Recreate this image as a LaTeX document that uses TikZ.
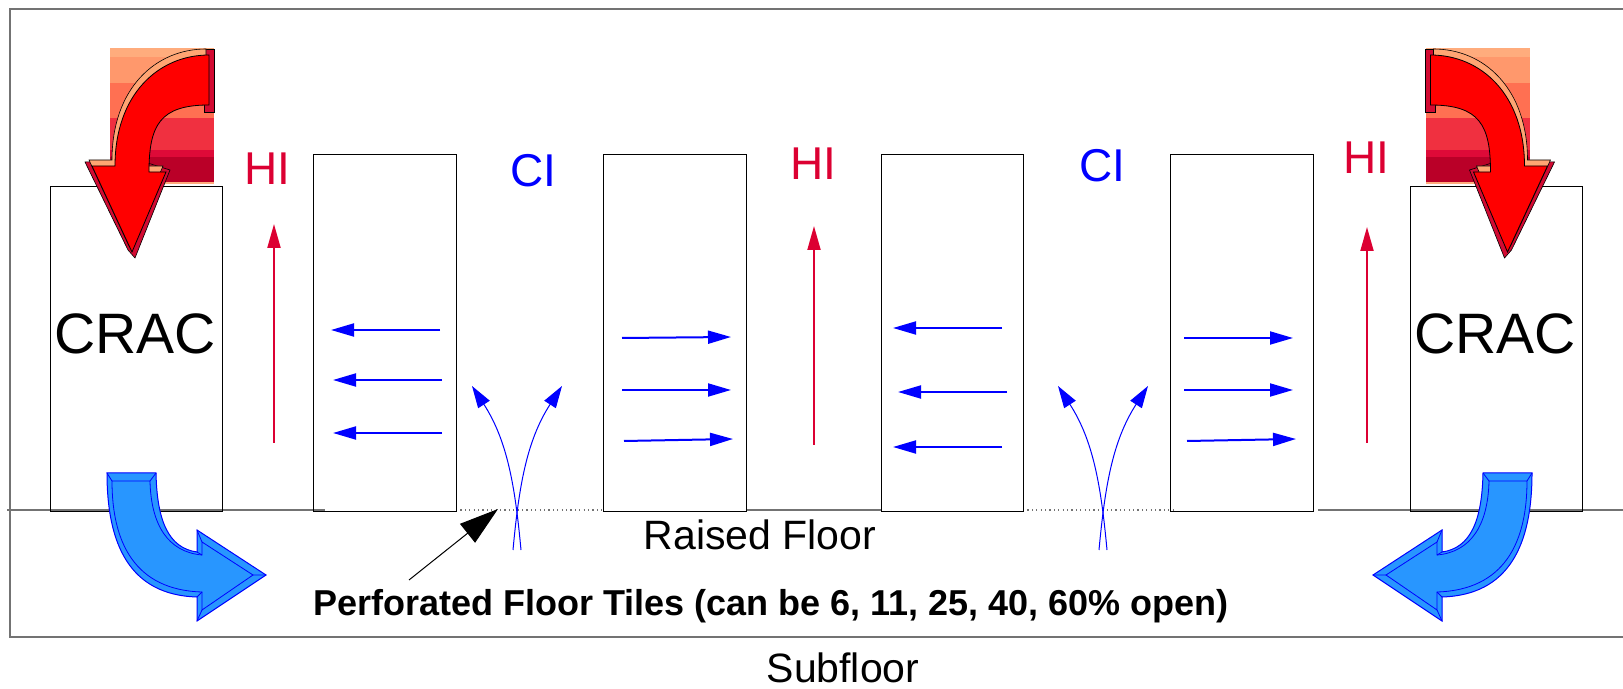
\documentclass[tikz,border=0pt]{standalone}
\usepackage{fontspec}
\setmainfont{Liberation Sans}
\usetikzlibrary{arrows.meta}
\definecolor{hotred}{RGB}{220,0,50}
\definecolor{airblue}{RGB}{0,0,255}
\definecolor{coolfill}{RGB}{40,150,255}
\definecolor{linegray}{RGB}{115,115,115}
\definecolor{stripeA}{RGB}{255,172,125}
\definecolor{stripeB}{RGB}{255,152,108}
\definecolor{stripeC}{RGB}{255,112,82}
\definecolor{stripeD}{RGB}{240,48,64}
\definecolor{stripeE}{RGB}{222,10,56}
\definecolor{stripeF}{RGB}{186,0,40}
\definecolor{bevellight}{RGB}{255,165,115}
\definecolor{beveldark}{RGB}{210,10,50}
\definecolor{facered}{RGB}{255,0,0}
\newcommand\hotface[2]{\draw[#1,shift={#2}] (209,55) .. controls (158,55) and (115,95) .. (115,166) -- (92,166) -- (132,252) -- (166,172) -- (149,172) .. controls (149,125) and (160,105) .. (209,105) -- cycle;}
\tikzset{
  rackbox/.style={draw=black, line width=0.5pt, inner sep=0pt, minimum width=71.5pt, minimum height=178.5pt},
  cracbox/.style={draw=black, line width=0.5pt, inner sep=0pt, minimum width=86pt, minimum height=162.5pt},
  bigtext/.style={inner sep=0pt, anchor=base, font=\fontsize{28.5}{32}\selectfont},
  hitext/.style={inner sep=0pt, anchor=base, text=hotred, font=\fontsize{23}{27}\selectfont},
  citext/.style={inner sep=0pt, anchor=base, text=airblue, font=\fontsize{23}{27}\selectfont},
  floortext/.style={inner sep=0pt, anchor=base, font=\fontsize{20.5}{24}\selectfont},
  flowarrow/.style={airblue, line width=1pt, -{Triangle[length=11.5pt,width=6.5pt]}},
  hotflow/.style={hotred, line width=1pt, -{Triangle[length=12pt,width=6.5pt]}},
  riseflow/.style={airblue, line width=0.5pt, -{Triangle[length=11pt,width=6.8pt]}},
  floorline/.style={linegray, line width=1pt},
  floordot/.style={linegray, line width=0.7pt, dash pattern=on 0.6pt off 1.6pt},
  hotarrow/.pic={
    \fill[stripeA] (110,48) rectangle (214,57);
    \fill[stripeB] (110,57) rectangle (214,83);
    \fill[stripeC] (110,83) rectangle (214,118);
    \fill[stripeD] (110,118) rectangle (214,150);
    \fill[stripeE] (110,150) rectangle (214,157);
    \fill[stripeF] (110,157) rectangle (214,182);
    \fill[stripeA] (110,182) rectangle (214,184);
    \draw[fill=beveldark, draw=black, line width=0.3pt] (204,49) -- (214,49) -- (214,112) -- (204,112) -- cycle;
    \draw[fill=beveldark, draw=black, line width=0.3pt] (85,162) -- (138,160) -- (170,170) -- (135,258) -- (128,250) -- cycle;
    \hotface{fill=bevellight,draw=black,line width=0.3pt}{(-3,-6)}
    \hotface{fill=facered,draw=black,line width=0.4pt}{(0,0)}
  },
  coolarrow/.pic={
    \draw[airblue, fill=coolfill, line width=0.5pt] (107,473) -- (156,473) .. controls (157,520) and (168,548) .. (197,552) -- (197,530) -- (266,575) -- (197,621) -- (197,597) .. controls (130,595) and (107,545) .. (107,473) -- cycle;
    \draw[airblue, line width=0.4pt] (112,481) -- (150,481) .. controls (151,525) and (168,552) .. (202,555) -- (202,542) -- (253,575) -- (202,610) -- (202,592) .. controls (135,590) and (112,543) .. (112,481) -- cycle;
    \draw[airblue, line width=0.4pt] (107,473) -- (112,481) (156,473) -- (150,481) (197,552) -- (202,555) (197,530) -- (202,542) (266,575) -- (253,575) (197,621) -- (202,610) (197,597) -- (202,592);
  }
}
\begin{document}
\begin{tikzpicture}[x=0.5pt,y=-0.5pt]
\useasboundingbox (0,0) rectangle (1623,689);
% frame
\draw[linegray, line width=0.75pt] (1623,9) -- (10,9) -- (10,637) -- (1623,637);
% floor
\draw[floorline] (7,510) -- (325,510);
\draw[floordot] (456,510) -- (603,510);
\draw[floorline] (746,510) -- (881,510);
\draw[floordot] (1023,510) -- (1176,510);
\draw[floorline] (1318,510) -- (1623,510);
% racks and CRACs
\node[rackbox] (rack1) at (384.5,333.5) {};
\node[rackbox] (rack2) at (674.5,333.5) {};
\node[rackbox, minimum width=71pt] (rack3) at (952,333.5) {};
\node[rackbox] (rack4) at (1242,333.5) {};
\node[cracbox] (cracL) at (136,349.5) {};
\node[cracbox] (cracR) at (1496.5,349.5) {};
\node[bigtext] (cracLt) at (135,353.5) {CRAC};
\node[bigtext] (cracRt) at (1495,353.5) {CRAC};
% labels
\node[hitext] (hi1) at (267,185) {HI};
\node[hitext] (hi2) at (813.5,180) {HI};
\node[hitext] (hi3) at (1366,174) {HI};
\node[citext] (ci1) at (533,187) {CI};
\node[citext] (ci2) at (1102,182) {CI};
% hot aisle arrows
\draw[hotflow] (274,443) -- (274,224);
\draw[hotflow] (814,445) -- (814,226);
\draw[hotflow] (1367,443) -- (1367,227);
% exhaust arrows
\draw[flowarrow] (440,330) -- (331,330);
\draw[flowarrow] (442,380) -- (333,380);
\draw[flowarrow] (442,433) -- (333,433);
\draw[flowarrow] (622,338) -- (731,337);
\draw[flowarrow] (622,390) -- (731,390);
\draw[flowarrow] (624,441) -- (733,439);
\draw[flowarrow] (1002,328) -- (893,328);
\draw[flowarrow] (1007,392) -- (898,392);
\draw[flowarrow] (1002,447) -- (893,447);
\draw[flowarrow] (1184,338) -- (1293,338);
\draw[flowarrow] (1184,390) -- (1293,390);
\draw[flowarrow] (1187,441) -- (1296,439);
% air rising through perforated tiles
\draw[riseflow] (521,550) .. controls (515,485) and (507,440) .. (472,386);
\draw[riseflow] (513,550) .. controls (519,485) and (527,440) .. (562,386);
\draw[riseflow] (1107,550) .. controls (1101,485) and (1093,440) .. (1058,386);
\draw[riseflow] (1099,550) .. controls (1105,485) and (1113,440) .. (1148,386);
% big arrows
\pic at (0,0) {hotarrow};
\pic[xscale=-1] at (1639.5,0) {hotarrow};
\pic at (0,0) {coolarrow};
\pic[xscale=-1] at (1639,0) {coolarrow};
% floor texts
\node[floortext] (raised) at (760,550) {Raised Floor};
\node[floortext] (subfloor) at (843,682) {Subfloor};
\node[inner sep=0pt, anchor=base, font=\bfseries\fontsize{18}{21}\selectfont] (tiles) at (771,615) {Perforated Floor Tiles (can be 6, 11, 25, 40, 60\% open)};
\coordinate (tilept) at (498,509);
\coordinate (tilefrom) at (409,580);
\draw[black, line width=0.5pt, -{Triangle[length=19.5pt,width=12pt]}] (tilefrom) -- (tilept);
\end{tikzpicture}
\end{document}
